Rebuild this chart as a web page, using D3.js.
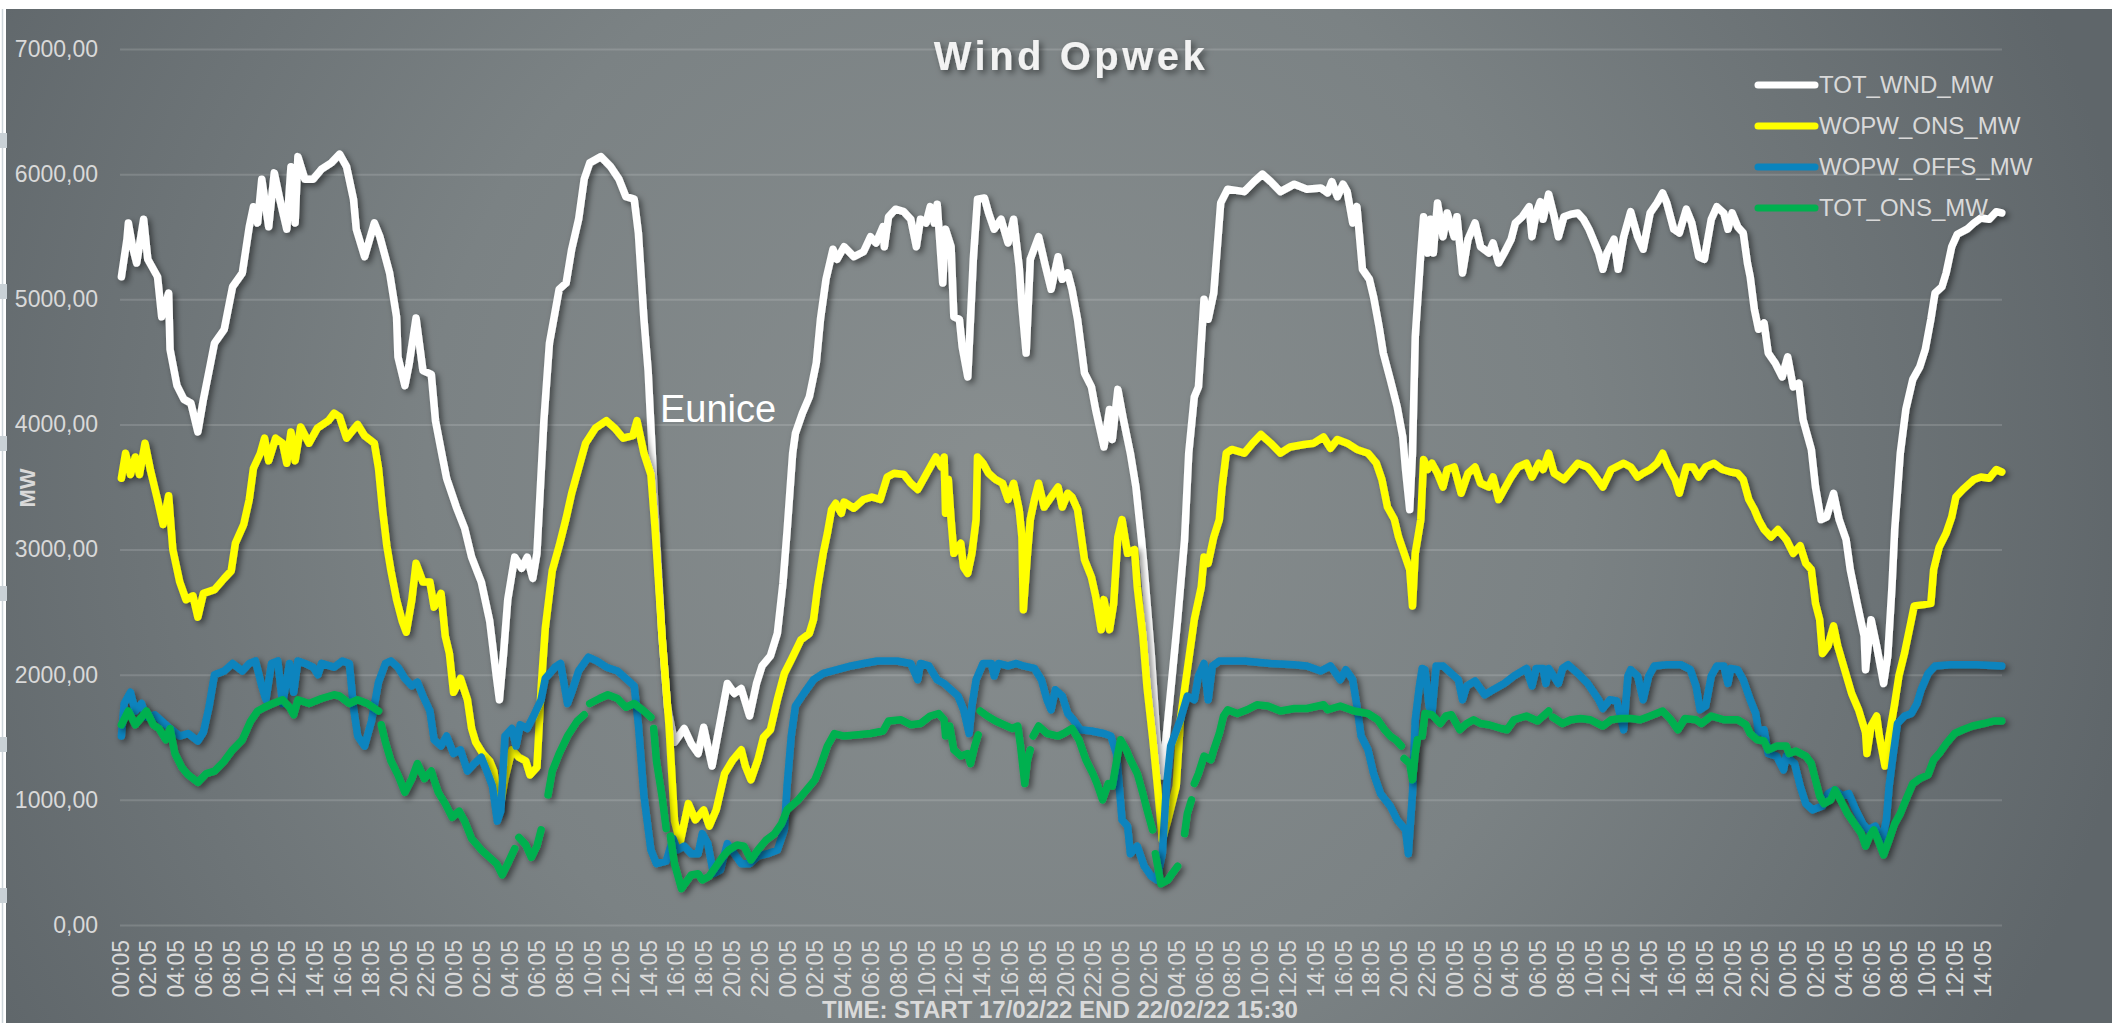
<!DOCTYPE html>
<html>
<head>
<meta charset="utf-8">
<script src="https://cdn.jsdelivr.net/npm/d3@7"></script>
<style>
html, body { margin: 0; padding: 0; background: #fff; overflow: hidden; }
svg { display: block; font-family: "Liberation Sans", Arial, sans-serif; }
</style>
</head>
<body>
<svg id="chart"></svg>
<script>
// hours since 17/02/22 00:05, MW.  null = break in the line
const TOT_WND_MW = [[0.1,5180],[0.5,5480],[0.6,5610],[0.9,5420],[1.2,5290],[1.7,5640],[2.0,5320],[2.7,5180],[3.0,4860],[3.5,5050],[3.6,4600],[4.1,4310],[4.6,4200],[5.1,4170],[5.6,3940],[6.0,4200],[6.5,4480],[6.8,4650],[7.5,4760],[8.1,5100],[8.8,5210],[9.3,5580],[9.6,5740],[9.9,5610],[10.2,5960],[10.7,5580],[11.1,6010],[11.5,5800],[12.0,5560],[12.3,6060],[12.6,5610],[12.8,6140],[13.3,5960],[13.9,5960],[14.5,6040],[15.2,6090],[15.8,6160],[16.3,6060],[16.8,5800],[17.0,5560],[17.6,5340],[18.3,5610],[18.7,5500],[19.4,5210],[19.9,4860],[20.0,4540],[20.5,4310],[20.8,4480],[21.3,4850],[21.8,4430],[22.4,4400],[22.7,4030],[23.2,3740],[23.5,3570],[24.2,3340],[24.8,3170],[25.3,2940],[26.0,2740],[26.6,2430],[27.1,1970],[27.3,1800],[27.6,2170],[27.9,2600],[28.4,2940],[28.9,2850],[29.3,2940],[29.7,2770],[30.0,2970],[30.5,4030],[30.9,4650],[31.6,5080],[32.1,5130],[32.5,5400],[33.0,5640],[33.4,5960],[33.8,6090],[34.6,6140],[35.3,6060],[35.9,5960],[36.4,5820],[37.0,5800],[37.3,5530],[37.7,4840],[38.0,4430],[38.5,3310],[39.0,2310],[39.4,1740],[39.9,1460],[40.6,1570],[41.1,1450],[41.6,1370],[42.0,1580],[42.6,1270],[43.0,1510],[43.7,1930],[44.2,1850],[44.7,1890],[45.3,1670],[45.8,1930],[46.2,2070],[46.8,2150],[47.3,2330],[47.7,2730],[48.0,3150],[48.4,3770],[48.6,3930],[49.1,4090],[49.6,4220],[50.1,4490],[50.4,4840],[50.8,5160],[51.3,5400],[51.6,5320],[52.1,5420],[52.8,5340],[53.5,5380],[54.0,5500],[54.4,5450],[54.9,5580],[55.0,5420],[55.3,5660],[55.8,5720],[56.4,5700],[56.9,5640],[57.3,5420],[57.6,5640],[58.0,5610],[58.3,5740],[58.6,5610],[58.8,5760],[59.2,5130],[59.4,5560],[59.8,5420],[60.0,4860],[60.4,4840],[60.6,4620],[61.0,4380],[61.4,5320],[61.7,5800],[62.2,5810],[62.5,5690],[62.9,5560],[63.4,5640],[63.9,5450],[64.3,5640],[64.7,5260],[64.9,4940],[65.2,4570],[65.5,5320],[66.1,5500],[66.6,5260],[67.0,5080],[67.5,5340],[67.8,5160],[68.2,5210],[68.5,5080],[68.9,4840],[69.4,4410],[69.9,4300],[70.2,4120],[70.8,3820],[71.2,4120],[71.4,3880],[71.8,4280],[72.2,4040],[72.7,3770],[73.1,3500],[73.5,3080],[73.7,2840],[74.2,2170],[74.6,1500],[75.0,1190],[75.4,1640],[76.1,2440],[76.6,3080],[76.9,3770],[77.3,4220],[77.6,4300],[78.0,5000],[78.3,4840],[78.7,5050],[79.2,5770],[79.7,5880],[80.9,5860],[81.6,5940],[82.2,6000],[82.8,5940],[83.5,5860],[84.5,5920],[85.4,5880],[86.4,5890],[86.9,5850],[87.2,5940],[87.6,5820],[88.0,5920],[88.3,5860],[88.7,5610],[89.0,5740],[89.4,5240],[89.9,5160],[90.2,5020],[90.6,4780],[90.9,4570],[91.4,4360],[91.9,4140],[92.3,3900],[92.5,3640],[92.8,3320],[93.0,3770],[93.2,4700],[93.6,5370],[93.8,5660],[94.1,5370],[94.3,5640],[94.5,5370],[94.8,5770],[95.2,5500],[95.5,5690],[96.0,5500],[96.2,5660],[96.6,5210],[97.0,5480],[97.5,5610],[97.9,5420],[98.5,5370],[98.8,5450],[99.2,5290],[99.6,5370],[100.1,5480],[100.4,5610],[100.9,5660],[101.4,5740],[101.6,5500],[101.9,5690],[102.2,5780],[102.4,5640],[102.8,5840],[103.2,5660],[103.5,5500],[103.9,5660],[104.4,5680],[104.9,5690],[105.3,5640],[105.7,5560],[106.0,5480],[106.4,5370],[106.7,5240],[107.0,5370],[107.5,5480],[107.8,5240],[108.2,5500],[108.7,5700],[109.2,5500],[109.6,5400],[110.1,5690],[110.6,5770],[111.0,5850],[111.3,5770],[111.8,5560],[112.2,5530],[112.7,5720],[113.1,5610],[113.6,5340],[114.0,5320],[114.5,5640],[114.9,5740],[115.4,5690],[115.7,5560],[116.0,5690],[116.4,5580],[116.8,5530],[117.1,5290],[117.3,5180],[117.6,4920],[117.9,4760],[118.3,4810],[118.6,4570],[119.1,4490],[119.6,4380],[120.0,4540],[120.4,4300],[120.8,4330],[121.1,4040],[121.7,3800],[122.0,3500],[122.4,3240],[122.8,3260],[123.3,3450],[123.7,3240],[124.2,3080],[124.5,2840],[125.0,2570],[125.5,2310],[125.6,2040],[126.0,2440],[126.4,2230],[126.9,1930],[127.2,2150],[127.5,2700],[127.7,3160],[128.1,3770],[128.5,4120],[129.0,4360],[129.5,4460],[129.9,4600],[130.3,4840],[130.6,5050],[131.1,5100],[131.4,5210],[131.8,5420],[132.2,5520],[132.9,5560],[133.4,5610],[133.9,5650],[134.5,5640],[135.0,5700],[135.4,5690]]

const WOPW_ONS_MW = [[0.1,3570],[0.4,3770],[0.75,3600],[1.1,3740],[1.4,3600],[1.8,3850],[2.2,3630],[2.7,3400],[3.1,3200],[3.5,3430],[3.8,3000],[4.3,2740],[4.75,2600],[5.25,2630],[5.6,2460],[6.0,2650],[6.8,2680],[7.5,2770],[8.0,2830],[8.3,3050],[8.9,3200],[9.3,3400],[9.6,3650],[10.1,3770],[10.4,3890],[10.7,3710],[11.2,3890],[11.7,3850],[12.0,3690],[12.3,3940],[12.6,3710],[13.0,3980],[13.6,3850],[14.2,3970],[15.0,4030],[15.4,4090],[15.8,4060],[16.3,3890],[17.1,4000],[17.6,3910],[18.3,3850],[18.6,3650],[18.9,3310],[19.2,3030],[19.5,2830],[19.9,2600],[20.3,2430],[20.6,2340],[21.0,2600],[21.3,2890],[21.8,2740],[22.3,2740],[22.6,2540],[23.1,2650],[23.4,2310],[23.7,2170],[24.0,1860],[24.5,1970],[25.0,1800],[25.3,1570],[25.6,1460],[26.1,1370],[26.6,1310],[26.9,1230],[27.3,910],[27.7,1170],[28.2,1400],[28.7,1340],[29.2,1310],[29.5,1200],[30.0,1260],[30.3,1890],[30.6,2370],[31.1,2830],[31.6,3030],[32.1,3250],[32.5,3450],[33.0,3650],[33.5,3850],[34.2,3970],[35.0,4030],[35.6,3970],[36.2,3890],[36.9,3910],[37.2,4030],[37.7,3770],[38.2,3600],[38.5,3170],[39.0,2310],[39.5,1600],[39.9,830],[40.3,660],[40.9,970],[41.4,840],[42.0,920],[42.4,790],[42.9,920],[43.5,1210],[44.1,1320],[44.7,1400],[45.0,1270],[45.4,1160],[45.9,1320],[46.3,1500],[46.8,1560],[47.3,1800],[47.8,2010],[48.3,2120],[49.0,2280],[49.6,2330],[49.9,2440],[50.2,2700],[50.6,2970],[50.9,3130],[51.2,3320],[51.5,3370],[51.9,3290],[52.1,3380],[52.8,3330],[53.5,3400],[54.1,3420],[54.7,3400],[55.2,3580],[55.7,3610],[56.4,3600],[56.9,3530],[57.4,3480],[57.8,3560],[58.3,3660],[58.7,3740],[59.1,3660],[59.3,3740],[59.4,3290],[59.6,3560],[59.8,3240],[60.0,2970],[60.5,3050],[60.7,2860],[61.0,2810],[61.3,2970],[61.6,3240],[61.7,3740],[62.1,3690],[62.5,3610],[63.0,3560],[63.5,3530],[63.9,3400],[64.3,3530],[64.7,3320],[64.9,3100],[65.0,2520],[65.3,2970],[65.5,3240],[65.8,3400],[66.1,3530],[66.5,3340],[67.0,3420],[67.5,3500],[67.8,3340],[68.2,3450],[68.5,3420],[68.9,3320],[69.1,3160],[69.4,2920],[69.9,2780],[70.2,2630],[70.6,2360],[70.8,2600],[71.2,2360],[71.5,2570],[71.8,3100],[72.1,3240],[72.5,2970],[73.0,3000],[73.2,2700],[73.6,2310],[73.9,1900],[74.3,1500],[74.65,1110],[75.0,680],[75.4,840],[76.0,1110],[76.3,1640],[76.8,2040],[77.3,2440],[77.8,2700],[78.0,2940],[78.3,2890],[78.7,3100],[79.1,3240],[79.3,3500],[79.6,3770],[80.0,3800],[80.9,3770],[81.5,3850],[82.1,3920],[82.8,3850],[83.5,3770],[84.2,3820],[85.2,3840],[85.9,3850],[86.6,3900],[87.1,3810],[87.6,3880],[88.3,3850],[89.0,3800],[89.8,3770],[90.4,3690],[90.8,3560],[91.2,3340],[91.7,3240],[92.0,3100],[92.4,2970],[92.8,2840],[93.0,2550],[93.2,2970],[93.6,3240],[93.8,3720],[94.1,3640],[94.4,3690],[94.8,3610],[95.2,3500],[95.5,3640],[96.0,3660],[96.5,3450],[97.0,3610],[97.5,3660],[97.9,3530],[98.5,3500],[98.8,3580],[99.2,3400],[99.6,3480],[100.1,3580],[100.6,3660],[101.2,3690],[101.6,3580],[102.1,3690],[102.4,3640],[102.8,3770],[103.2,3610],[103.9,3560],[104.9,3690],[105.6,3660],[106.0,3610],[106.7,3500],[107.3,3640],[108.2,3690],[108.7,3660],[109.2,3580],[109.6,3610],[110.1,3640],[110.6,3690],[111.0,3770],[111.4,3660],[111.9,3560],[112.2,3450],[112.7,3660],[113.2,3660],[113.6,3580],[114.1,3660],[114.7,3690],[115.3,3640],[115.9,3620],[116.4,3610],[116.8,3560],[117.2,3400],[117.6,3320],[117.9,3240],[118.3,3160],[118.8,3100],[119.3,3160],[119.9,3080],[120.4,2970],[120.9,3030],[121.3,2890],[121.7,2840],[122.0,2570],[122.3,2440],[122.5,2170],[122.9,2230],[123.3,2390],[123.6,2230],[124.1,2040],[124.6,1850],[125.1,1720],[125.6,1540],[125.7,1370],[126.0,1590],[126.4,1670],[126.6,1510],[127.0,1270],[127.3,1510],[127.7,1770],[128.0,1990],[128.4,2170],[128.9,2440],[129.1,2550],[129.8,2560],[130.3,2570],[130.5,2840],[130.9,3020],[131.4,3130],[131.8,3260],[132.1,3420],[132.6,3480],[133.4,3560],[133.9,3580],[134.5,3570],[135.0,3640],[135.4,3620]]

const WOPW_OFFS_MW = [[0.1,1510],[0.3,1770],[0.75,1860],[1.1,1710],[1.55,1770],[1.9,1660],[2.5,1680],[3.0,1630],[3.6,1570],[4.3,1510],[4.9,1530],[5.6,1470],[6.0,1540],[6.4,1740],[6.8,2000],[7.5,2030],[8.1,2090],[8.8,2030],[9.3,2090],[9.75,2110],[10.2,1910],[10.5,1800],[10.9,2090],[11.35,2110],[11.7,1770],[12.2,2090],[12.5,1860],[12.8,2110],[13.3,2090],[13.9,2060],[14.25,2000],[14.5,2090],[15.4,2060],[16.0,2110],[16.5,2090],[16.8,1740],[17.1,1510],[17.6,1430],[18.1,1630],[18.6,1940],[19.1,2090],[19.5,2110],[20.0,2060],[20.5,1970],[21.0,1910],[21.4,1940],[21.8,1830],[22.3,1710],[22.6,1480],[23.1,1430],[23.5,1510],[24.0,1370],[24.5,1400],[25.0,1230],[25.5,1290],[26.0,1340],[26.4,1230],[26.8,1110],[27.15,830],[27.4,910],[27.7,1510],[28.2,1570],[28.5,1430],[28.8,1600],[29.3,1570],[29.8,1680],[30.3,1800],[30.6,1970],[31.3,2060],[31.7,2090],[32.2,1770],[32.5,1860],[33.0,2030],[33.7,2140],[34.3,2110],[35.0,2060],[35.8,2030],[36.4,1970],[37.0,1910],[37.3,1600],[37.7,1030],[38.2,600],[38.6,490],[39.3,510],[39.8,690],[40.1,600],[40.6,630],[41.1,570],[41.6,570],[41.9,730],[42.3,650],[42.7,410],[43.2,440],[43.7,650],[44.2,570],[44.7,490],[45.3,490],[45.9,550],[46.6,570],[47.3,600],[47.8,760],[48.0,1110],[48.3,1510],[48.6,1750],[49.2,1850],[49.9,1960],[50.6,2010],[51.6,2040],[52.6,2070],[53.5,2090],[54.5,2110],[55.9,2110],[56.9,2090],[57.4,1960],[57.6,2090],[58.2,2070],[58.8,1960],[59.3,1930],[59.8,1880],[60.3,1830],[60.7,1720],[61.1,1530],[61.3,1750],[61.6,1960],[62.1,2090],[62.7,2090],[62.9,1990],[63.2,2090],[63.9,2070],[64.5,2090],[65.0,2070],[65.8,2050],[66.3,1960],[66.7,1800],[67.0,1720],[67.3,1880],[67.8,1830],[68.2,1690],[68.6,1640],[69.1,1560],[69.9,1550],[70.8,1530],[71.3,1510],[71.7,1370],[71.9,1110],[72.1,840],[72.5,790],[72.7,570],[73.2,630],[73.7,470],[74.2,390],[74.6,360],[75.0,570],[75.3,1110],[75.6,1430],[76.3,1640],[76.8,1830],[77.3,1800],[77.6,1990],[78.0,2090],[78.3,1800],[78.6,2070],[79.1,2110],[80.9,2110],[82.8,2090],[84.5,2080],[85.4,2070],[86.4,2030],[87.1,2070],[87.8,1960],[88.2,2040],[88.7,1960],[89.0,1750],[89.3,1510],[89.8,1400],[90.2,1210],[90.7,1050],[91.4,950],[91.9,840],[92.5,760],[92.7,570],[93.0,1050],[93.2,1640],[93.5,1910],[93.7,2050],[93.9,2040],[94.2,1750],[94.4,1690],[94.7,2070],[95.2,2070],[95.8,2010],[96.3,1960],[96.6,1800],[96.9,1910],[97.5,1950],[98.2,1840],[98.8,1880],[99.6,1930],[100.3,1990],[101.2,2050],[101.6,1910],[101.9,2050],[102.4,2050],[102.6,1930],[102.8,2050],[103.5,1930],[103.8,2050],[104.2,2080],[104.9,2010],[105.6,1930],[106.4,1800],[106.7,1730],[107.2,1800],[107.7,1790],[108.2,1560],[108.5,1990],[108.7,2040],[109.2,1990],[109.6,1800],[110.0,1990],[110.4,2070],[111.3,2080],[112.3,2080],[113.0,2040],[113.4,1910],[113.7,1720],[114.1,1750],[114.5,1990],[114.9,2070],[115.4,2070],[115.7,1930],[115.9,2050],[116.4,2040],[116.8,1960],[117.3,1800],[117.7,1690],[117.9,1540],[118.3,1560],[118.6,1370],[119.2,1350],[119.7,1240],[119.9,1350],[120.5,1290],[120.9,1110],[121.3,970],[121.8,920],[122.5,950],[122.9,1050],[123.4,1080],[123.9,1030],[124.4,1050],[124.9,920],[125.4,810],[125.8,760],[126.3,790],[126.8,680],[127.1,840],[127.3,1110],[127.6,1370],[127.9,1610],[128.4,1670],[128.9,1690],[129.3,1770],[129.6,1880],[130.1,2010],[130.6,2070],[131.7,2080],[133.6,2080],[135.4,2070]]

const TOT_ONS_MW = [[0.1,1600],[0.6,1710],[1.1,1600],[1.55,1660],[1.9,1710],[2.4,1600],[2.8,1570],[3.3,1480],[3.6,1570],[3.95,1370],[4.45,1260],[4.9,1200],[5.6,1140],[6.2,1210],[6.8,1230],[7.5,1310],[8.1,1400],[8.8,1480],[9.4,1630],[9.9,1710],[10.4,1740],[11.0,1770],[11.7,1800],[12.2,1740],[12.5,1680],[12.8,1800],[13.6,1770],[14.5,1810],[15.4,1840],[15.8,1830],[16.5,1770],[17.1,1800],[17.8,1770],[18.6,1710],null,
  [18.8,1600],[19.1,1460],[19.5,1310],[20.0,1200],[20.5,1060],[21.0,1170],[21.4,1290],[21.9,1170],[22.4,1230],[22.9,1060],[23.4,970],[23.9,860],[24.4,910],[24.8,830],[25.3,690],[26.0,600],[26.6,540],[27.1,490],[27.5,400],[27.9,490],[28.4,610],null,
  [28.7,700],[29.2,640],[29.6,540],[30.0,630],[30.3,760],null,
  [30.8,1040],[31.1,1230],[31.6,1370],[32.2,1510],[32.9,1630],[33.4,1680],null,
  [33.8,1770],[34.5,1810],[35.1,1840],[35.8,1810],[36.4,1740],[37.0,1770],[37.7,1710],[38.2,1660],null,
  [38.4,1570],[38.6,1310],[39.0,1030],[39.3,770],null,
  [39.6,710],[39.9,490],[40.4,290],[41.1,400],[41.6,410],[41.9,360],[42.4,390],[42.9,470],[43.4,550],[43.8,600],[44.4,640],[44.9,630],[45.4,520],[45.9,600],[46.5,680],[47.1,730],[47.6,810],[48.0,920],[48.8,1000],[49.4,1080],[50.0,1160],[50.4,1270],[50.9,1430],[51.4,1530],[52.1,1510],[53.1,1520],[54.0,1530],[54.9,1550],[55.3,1630],[56.2,1640],[56.9,1600],[57.6,1610],[58.3,1670],[58.9,1690],[59.3,1640],[59.4,1510],[59.7,1590],[60.0,1400],[60.5,1350],[61.0,1370],[61.2,1290],[61.5,1430],[61.75,1520],null,
  [61.9,1710],[62.4,1670],[63.0,1630],[63.6,1600],[64.2,1570],[64.6,1590],[64.8,1430],[65.1,1130],[65.3,1320],[65.5,1400],null,
  [65.7,1510],[66.1,1590],[66.7,1530],[67.5,1510],[67.9,1530],[68.5,1570],[69.0,1480],[69.5,1320],[70.0,1210],[70.3,1130],[70.7,1000],[71.1,1130],[71.4,1110],[71.8,1370],[72.0,1480],[72.4,1400],[72.7,1320],[73.2,1210],[73.6,1050],[73.9,920],[74.3,760],null,
  [74.5,570],[74.9,330],[75.4,360],[75.7,410],[76.1,470],null,
  [76.6,730],[76.8,890],[77.1,1000],null,
  [77.3,1130],[77.6,1210],[78.0,1350],[78.5,1320],[78.7,1400],[79.1,1530],[79.4,1670],[79.7,1720],[80.4,1690],[81.1,1720],[81.8,1760],[82.6,1750],[83.5,1710],[84.5,1730],[85.4,1730],[86.6,1760],[86.9,1720],[87.8,1750],[88.8,1710],[89.8,1690],[90.5,1640],[91.0,1560],[91.4,1510],[91.8,1480],[92.2,1430],null,
  [92.4,1330],[92.8,1290],[93.0,1160],[93.2,1370],[93.35,1480],null,
  [93.7,1510],[93.9,1690],[94.4,1680],[95.0,1610],[95.4,1670],[95.8,1680],[96.4,1560],[96.9,1610],[97.4,1640],[97.9,1610],[98.5,1600],[99.4,1570],[99.8,1560],[100.3,1640],[101.2,1670],[102.0,1630],[102.8,1710],null,
  [103.1,1660],[103.8,1610],[104.4,1640],[105.1,1650],[105.8,1640],[106.7,1590],[107.3,1640],[108.0,1650],[108.7,1650],[109.4,1640],[110.1,1670],[111.0,1710],[111.6,1640],[112.1,1560],[112.6,1650],[113.4,1640],[113.8,1610],[114.5,1670],[115.4,1640],[116.4,1640],[117.0,1600],[117.3,1530],[117.8,1480],[118.3,1470],[118.6,1400],[119.2,1430],[119.9,1430],[120.1,1370],[120.6,1390],[121.3,1350],[121.7,1290],[122.0,1160],[122.3,1030],[122.6,970],[123.1,1000],[123.4,1080],[123.8,1000],[124.3,890],[124.8,810],[125.3,730],[125.6,630],[125.9,710],[126.2,760],[126.6,650],[126.9,560],[127.3,680],[127.7,810],[128.1,890],[128.5,1000],[129.0,1130],[129.5,1170],[130.1,1200],[130.5,1320],[130.9,1370],[131.4,1450],[132.0,1530],[132.6,1560],[133.3,1590],[134.1,1610],[134.8,1630],[135.4,1630]]

const SERIES_NAMES = ['TOT_WND_MW', 'WOPW_ONS_MW', 'WOPW_OFFS_MW', 'TOT_ONS_MW']
const SERIES_COLORS = ['#ffffff', '#ffff00', '#0a84be', '#00b04f']
const Y_TICKS = [0, 1000, 2000, 3000, 4000, 5000, 6000, 7000]
const HOUR_LABELS = ['00:05','02:05','04:05','06:05','08:05','10:05','12:05','14:05','16:05','18:05','20:05','22:05']
const N_DAYS = 6
const LAST_HOUR = 135.42   // 22/02/22 15:30
const TITLE = 'Wind Opwek'
const X_TITLE = 'TIME: START 17/02/22 END 22/02/22 15:30'
const Y_TITLE = 'MW'
const NOTE = 'Eunice'

const WIDTH = 2112
const HEIGHT = 1023
const LEFT = 120
const RIGHT = 2002
const TOP = 49
const BOTTOM = 925
const LABEL_COL = '#d9d9d9'

// tick positions every 2h, cut after the last hour
const tickHours = []
const tickLabels = []
for (let d = 0; d < N_DAYS; d++) {
  HOUR_LABELS.forEach((l, i) => {
    const h = d * 24 + i * 2
    if (h <= LAST_HOUR - 1) { tickHours.push(h); tickLabels.push(l) }
  })
}

const svg = d3.select('#chart').attr('width', WIDTH).attr('height', HEIGHT)
const defs = svg.append('defs')

const bg = defs.append('radialGradient').attr('id', 'bg')
  .attr('gradientUnits', 'userSpaceOnUse')
  .attr('cx', 1000).attr('cy', 480).attr('r', 1150)
bg.append('stop').attr('offset', 0).attr('stop-color', '#888e8f')
bg.append('stop').attr('offset', 0.5).attr('stop-color', '#7b8284')
bg.append('stop').attr('offset', 1).attr('stop-color', '#5f666a')

const sh = defs.append('filter').attr('id', 'shadow')
  .attr('filterUnits', 'userSpaceOnUse')
  .attr('x', 0).attr('y', 0).attr('width', WIDTH).attr('height', HEIGHT)
sh.append('feDropShadow').attr('dx', 3).attr('dy', 3).attr('stdDeviation', 3)
  .attr('flood-color', '#000').attr('flood-opacity', 0.5)

// page + card
svg.append('rect').attr('width', WIDTH).attr('height', HEIGHT).attr('fill', '#fff')
svg.append('rect').attr('x', 6).attr('y', 9).attr('width', WIDTH - 6).attr('height', HEIGHT - 9)
  .attr('fill', 'url(#bg)')
svg.append('line').attr('x1', 2.5).attr('x2', 2.5).attr('y1', 9).attr('y2', HEIGHT)
  .attr('stroke', '#cdd5da').attr('stroke-width', 1.5)
for (const ty of [133, 284, 436, 586, 737, 888]) {
  svg.append('rect').attr('x', 0).attr('y', ty).attr('width', 7).attr('height', 15).attr('fill', '#c9d1d6')
}

const x = d3.scaleLinear().domain([0, LAST_HOUR]).range([LEFT, RIGHT])
const y = d3.scaleLinear().domain([0, 7000]).range([BOTTOM, TOP])

const nl = d3.formatLocale({decimal: ',', thousands: '', grouping: [3], currency: ['', '']})

// grid
const grid = svg.append('g').attr('transform', `translate(${LEFT},0)`)
  .call(d3.axisLeft(y).tickValues(Y_TICKS).tickSize(-(RIGHT - LEFT)).tickFormat(''))
grid.select('.domain').remove()
grid.selectAll('line').attr('stroke', 'rgba(255,255,255,0.14)').attr('stroke-width', 2)

// y axis
const yAx = svg.append('g').attr('transform', `translate(${LEFT},0)`)
  .call(d3.axisLeft(y).tickValues(Y_TICKS).tickSize(0).tickPadding(22).tickFormat(nl.format('.2f')))
yAx.select('.domain').remove()
yAx.selectAll('text').attr('fill', LABEL_COL).attr('font-size', 23)
  .attr('font-family', '"Liberation Sans", Arial, sans-serif')

// x axis
const xAx = svg.append('g').attr('transform', `translate(0,${BOTTOM})`)
  .call(d3.axisBottom(x).tickValues(tickHours).tickSize(0).tickFormat((d, i) => tickLabels[i]))
xAx.select('.domain').remove()
xAx.selectAll('text')
  .attr('fill', LABEL_COL).attr('font-size', 23)
  .attr('font-family', '"Liberation Sans", Arial, sans-serif')
  .attr('transform', 'rotate(-90)')
  .attr('text-anchor', 'end')
  .attr('x', -15).attr('y', 0).attr('dy', '0.35em')

// lines
const line = d3.line().defined(d => d !== null).x(d => x(d[0])).y(d => y(d[1]))
const allSeries = [TOT_WND_MW, WOPW_ONS_MW, WOPW_OFFS_MW, TOT_ONS_MW]
svg.append('g').selectAll('path')
  .data(allSeries)
  .enter().append('path')
    .attr('d', line)
    .attr('fill', 'none')
    .attr('stroke', (d, i) => SERIES_COLORS[i])
    .attr('stroke-width', 7.5)
    .attr('stroke-linejoin', 'round')
    .attr('stroke-linecap', 'round')
    .attr('filter', 'url(#shadow)')

// legend
const leg = svg.append('g').attr('transform', 'translate(1758,85)')
const item = leg.selectAll('g').data(SERIES_NAMES).enter().append('g')
  .attr('transform', (d, i) => `translate(0,${i * 41})`)
item.append('line').attr('x1', 0).attr('x2', 57)
  .attr('stroke', (d, i) => SERIES_COLORS[i]).attr('stroke-width', 7).attr('stroke-linecap', 'round')
item.append('text').attr('x', 61).attr('dy', '0.35em')
  .attr('fill', LABEL_COL).attr('font-size', 24).text(d => d)

// texts
svg.append('text').attr('x', 1071).attr('y', 70).attr('text-anchor', 'middle')
  .attr('font-size', 40).attr('font-weight', 'bold').attr('letter-spacing', 3.5)
  .attr('fill', '#f2f2f2').attr('filter', 'url(#shadow)').text(TITLE)

svg.append('text').attr('x', 1060).attr('y', 1018).attr('text-anchor', 'middle')
  .attr('font-size', 24).attr('font-weight', 'bold').attr('fill', LABEL_COL).text(X_TITLE)

svg.append('text').attr('transform', 'translate(27,488) rotate(-90)').attr('text-anchor', 'middle')
  .attr('dy', '0.35em').attr('font-size', 22).attr('font-weight', 'bold').attr('fill', LABEL_COL).text(Y_TITLE)

svg.append('text').attr('x', 660).attr('y', 422).attr('font-size', 38).attr('fill', '#fff').text(NOTE)
</script>
</body>
</html>
